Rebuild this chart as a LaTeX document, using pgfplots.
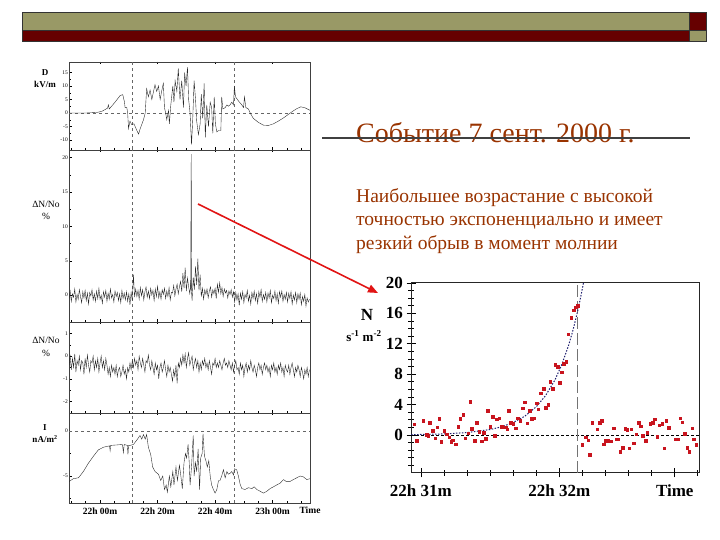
\documentclass[border=0pt]{standalone}
\usepackage{pgfplots}
\pgfplotsset{compat=1.18}
\usepackage{fontspec}
\setmainfont{Liberation Serif}
\usetikzlibrary{arrows.meta}
\definecolor{olivebar}{RGB}{153,153,102}
\definecolor{darkredbar}{RGB}{102,0,0}
\definecolor{brownt}{RGB}{153,51,0}
\definecolor{dotred}{RGB}{200,20,30}
\definecolor{fitblue}{RGB}{30,30,110}
\pgfplotsset{
 lp/.style={scale only axis, anchor=north west, width=241pt, xmin=-10.8, xmax=73,
  axis line style={black!75, line width=0.5pt},
  xtick={0,20,40,60}, minor xtick={-10,-5,...,70}, xticklabels={},
  ytick pos=left,
  tick align=inside, major tick length=2.5pt, minor tick length=1.5pt,
  tick style={black, line width=0.4pt},
  yticklabel style={font=\fontsize{5.5}{6}\selectfont, inner sep=1pt},
  /pgf/number format/assume math mode=true, clip=true},
 sig/.style={black!85, line width=0.38pt, mark=none},
 vd/.style={black!60, dashed, line width=0.4pt},
}
\begin{document}
\begin{tikzpicture}
\path[use as bounding box] (0pt,0pt) rectangle (720pt,540pt);
% top bar
\fill[olivebar] (22pt,528pt) rectangle (689pt,510pt);
\fill[darkredbar] (22pt,510pt) rectangle (689pt,499pt);
\fill[darkredbar] (689pt,528pt) rectangle (706pt,510pt);
\fill[olivebar] (689pt,510pt) rectangle (706pt,499pt);
\draw[black!80, line width=0.6pt] (22pt,528pt) rectangle (706pt,499pt);
\draw[black!80, line width=0.6pt] (22pt,510pt) -- (706pt,510pt) (689pt,528pt) -- (689pt,499pt);

% ---------- panel 1: D kV/m
\begin{axis}[lp, at={(69pt,478pt)}, height=88pt, ymin=-13.7, ymax=18.9,
  ytick={-10,-5,0,5,10,15}, minor y tick num=1]
\addplot[vd] coordinates {(11.1,-20) (11.1,25)};
\addplot[vd] coordinates {(46.6,-20) (46.6,25)};
\addplot[vd] coordinates {(-10.8,0) (73,0)};
\addplot[sig] coordinates {
(-10.7,0) (-5,0) (-1.2,0.2) (0.6,0.6) (2.6,1.8) (2.9,3) (3.2,1.5) (5.2,4) (7.0,6.5) (7.9,6.8) (8.5,4) (8.7,2) (9.3,2) (9.6,0) (9.9,-5.8) (10.4,-3) (11.0,-4.3) (11.8,-4) (12.8,-6.5) (13.4,-7.8) (13.9,-6) (15.1,-2.5) (15.7,0) (16.2,9) (16.8,6) (17.4,8.5) (18.0,5) (18.6,8) (19.1,10.5) (19.7,8) (20.3,10) (20.9,5) (21.4,8) (22.0,11) (22.4,2) (22.8,0) (23.2,-2.5) (23.8,1) (24.1,-4) (24.6,3) (25.3,10) (25.7,4) (26.1,12) (26.7,8) (27.2,16.5) (27.8,5) (28.4,12) (29.0,2) (29.4,15) (29.9,10) (30.4,17) (30.8,5) (31.3,0) (31.8,-11.7) (32.2,-3) (32.7,12) (33.2,5) (33.6,-3) (34.2,-8) (34.8,-4) (35.2,7) (35.7,-2) (36.2,11) (36.6,-9) (37.1,3) (37.7,-5) (38.3,4) (38.8,2) (39.2,-7.5) (39.7,6) (40.1,-4) (40.6,-7) (41.2,-6.5) (42.0,-6.5) (42.3,6) (42.7,1.5) (43.5,2) (44.1,3) (44.6,2.5) (45.2,3) (45.8,4) (46.4,3) (46.7,10) (47.1,6) (48.1,4.5) (49.3,3) (49.9,2) (50.2,6) (50.7,2) (51.6,1.5) (52.2,0) (53.3,-2) (55.1,-3.5) (56.8,-4.5) (58.6,-4.6) (60.3,-4) (62.0,-3) (63.8,-1.8) (65.5,-0.5) (67.2,0.8) (68.4,1.6) (69.8,2.3) (71.3,1.9) (73.0,1)};
\end{axis}

% ---------- panel 2: dN/No %
\begin{axis}[lp, at={(69pt,390pt)}, height=172pt, ymin=-3.9, ymax=21.1,
  ytick={0,5,10,15,20}, minor y tick num=1]
\addplot[vd] coordinates {(11.1,-20) (11.1,25)};
\addplot[vd] coordinates {(46.6,-20) (46.6,25)};
\addplot[sig] table[row sep=\\, header=false, x expr=-10.8+0.4*\coordindex, y index=0] {
-0.5\\0.6\\-0.9\\0.2\\-0.3\\0.9\\-1.0\\0.1\\-0.6\\0.8\\
-0.2\\-1.1\\0.5\\-0.4\\0.7\\-0.8\\0.3\\-1.3\\0.4\\-0.1\\
0.8\\-0.7\\0.2\\-0.9\\0.6\\-0.5\\1.0\\-0.6\\0.0\\-1.2\\
0.5\\-0.3\\0.7\\-0.9\\0.3\\-0.6\\0.9\\-0.4\\0.1\\-1.0\\
0.6\\-0.2\\0.4\\-0.8\\0.2\\-1.1\\0.7\\-0.5\\0.3\\-0.7\\
0.5\\-0.9\\0.2\\-1.4\\0.4\\-0.8\\3.0\\-0.3\\0.9\\-0.2\\
0.7\\-0.6\\1.1\\-0.1\\0.8\\-0.7\\0.5\\1.2\\-0.3\\0.6\\
-0.5\\1.0\\0.0\\0.7\\-0.8\\0.9\\-0.2\\1.3\\-0.4\\0.5\\
-0.6\\0.8\\0.1\\1.0\\-0.5\\0.6\\-0.2\\1.1\\-0.7\\0.4\\
0.3\\1.4\\-0.1\\0.9\\1.6\\0.2\\1.2\\2.0\\0.5\\3.2\\
1.0\\4.0\\0.6\\2.5\\1.2\\0.2\\1.8\\-0.8\\2.6\\0.8\\
4.2\\1.5\\5.3\\0.7\\3.0\\-0.2\\1.0\\-0.6\\0.8\\0.1\\
0.9\\-0.4\\0.6\\1.2\\-0.3\\0.8\\0.2\\1.0\\-0.5\\1.6\\
0.4\\1.8\\0.2\\1.1\\-0.2\\0.9\\0.3\\0.7\\-0.4\\0.6\\
0.1\\0.8\\-0.3\\0.5\\-1.0\\0.4\\-0.7\\0.2\\-1.5\\0.3\\
-0.6\\0.5\\-1.1\\0.1\\-0.4\\0.7\\-0.9\\0.0\\-1.3\\0.4\\
-0.5\\0.6\\-0.8\\0.2\\-1.2\\0.5\\-0.3\\0.8\\-0.9\\0.1\\
-0.6\\0.4\\-1.0\\0.3\\-0.4\\0.7\\-1.1\\0.0\\-0.5\\0.6\\
-0.8\\0.2\\-1.2\\0.5\\-0.3\\0.6\\-0.9\\0.1\\-0.6\\0.4\\
-1.0\\0.3\\-0.5\\0.5\\-1.3\\0.0\\-0.7\\0.4\\-1.1\\0.2\\
-0.6\\0.3\\-1.4\\-0.2\\-0.9\\0.1\\-1.6\\-0.4\\-1.0\\-0.6\\
};
\addplot[sig] coordinates {(31.5,0.8) (31.7,20.5) (31.85,1.0)};
\end{axis}

% ---------- panel 3: dN/No %
\begin{axis}[lp, at={(69pt,218pt)}, height=91pt, ymin=-2.5, ymax=1.5,
  ytick={-2,-1,0,1}, minor y tick num=1]
\addplot[vd] coordinates {(11.1,-5) (11.1,5)};
\addplot[vd] coordinates {(46.6,-5) (46.6,5)};
\addplot[sig] table[row sep=\\, header=false, x expr=-10.8+0.4*\coordindex, y index=0] {
-0.4\\0.0\\-0.6\\-0.1\\-0.5\\0.1\\-0.7\\-0.2\\-0.4\\0.0\\
-0.6\\-0.2\\-0.3\\-0.8\\-0.1\\-0.5\\0.05\\-0.4\\-0.7\\-0.2\\
-0.3\\0.0\\-0.6\\-0.2\\-0.5\\-0.1\\-0.7\\-0.3\\0.0\\-0.5\\
-0.2\\-0.6\\-0.1\\-0.4\\-0.8\\-0.5\\-0.9\\-0.4\\-0.7\\-0.5\\
-0.8\\-0.4\\-0.9\\-0.6\\-0.5\\-0.9\\-0.7\\-0.4\\-0.8\\-0.6\\
-1.0\\-0.5\\-0.7\\-0.3\\-0.6\\-0.2\\-0.5\\-0.1\\-0.4\\-0.2\\
-0.6\\0.0\\-0.3\\-0.5\\-0.1\\-0.4\\-0.7\\-0.2\\-0.3\\0.05\\
-0.4\\-0.6\\-0.2\\-0.5\\-0.8\\-0.3\\-0.6\\-0.4\\-1.0\\-0.5\\
-0.3\\-0.7\\-0.5\\-0.2\\-0.6\\-0.9\\-0.4\\-0.7\\-0.5\\-0.8\\
-1.1\\-0.6\\-0.9\\-0.4\\-1.2\\-0.3\\-0.5\\-0.1\\-0.4\\0.05\\
-0.3\\0.1\\-0.5\\-0.1\\0.15\\-0.4\\-0.2\\0.0\\-0.6\\-0.3\\
-0.1\\-0.5\\-0.2\\-0.7\\-0.3\\-0.6\\-0.2\\-0.4\\-0.1\\-0.5\\
-0.3\\-0.6\\-0.2\\-0.5\\-0.8\\-0.3\\-0.4\\-0.1\\-0.5\\-0.3\\
-0.5\\-0.2\\-0.4\\-0.6\\-0.3\\-0.1\\-0.4\\-0.3\\-0.5\\-0.2\\
-0.4\\-0.6\\-0.3\\-0.7\\-0.4\\-0.2\\-0.6\\-0.5\\-0.8\\-0.3\\
-0.6\\-0.4\\-0.9\\-0.5\\-0.3\\-0.7\\-0.4\\-0.6\\-0.2\\-0.5\\
-0.7\\-0.4\\-0.6\\-0.9\\-0.5\\-0.3\\-0.6\\-0.4\\-0.8\\-0.5\\
-0.3\\-0.6\\-0.4\\-0.7\\-0.5\\-0.9\\-0.4\\-0.6\\-0.3\\-0.7\\
-0.5\\-0.8\\-0.4\\-0.6\\-0.3\\-0.7\\-0.5\\-0.9\\-0.4\\-0.6\\
-0.7\\-0.4\\-0.8\\-0.5\\-0.3\\-0.6\\-0.9\\-0.5\\-0.7\\-0.4\\
-0.6\\-0.9\\-0.5\\-0.7\\-1.0\\-0.6\\-0.8\\-0.5\\-0.9\\-0.6\\
};
\end{axis}

% ---------- panel 4: I nA/m2
\begin{axis}[lp, at={(69pt,127pt)}, height=90pt, ymin=-8, ymax=2,
  ytick={-5,0}, minor ytick={-7.5,-2.5},
  xticklabels={22h 00m,22h 20m,22h 40m,23h 00m},
  xticklabel style={font=\bfseries\fontsize{9.5}{10}\selectfont, yshift=-1pt}]
\addplot[vd] coordinates {(11.1,-10) (11.1,5)};
\addplot[vd] coordinates {(46.6,-10) (46.6,5)};
\addplot[vd] coordinates {(-10.8,0) (73,0)};
\addplot[sig] coordinates {
(-10.7,-5.6) (-9.3,-5.3) (-7.5,-5.2) (-5.8,-4.5) (-4.1,-3.6) (-2.3,-2.8) (-0.6,-2.1) (1.2,-1.8) (3.3,-1.65) (3.5,-2.2) (3.7,-1.6) (5.8,-1.55) (7.8,-1.5) (8.1,-2.4) (8.4,-1.5) (9.5,-1.6) (9.7,-2.6) (9.9,-1.6) (10.4,-1.6) (11.6,-1.5) (12.8,-1.0) (13.9,-0.5) (14.5,-0.9) (15.1,-0.4) (15.7,-0.9) (16.2,-0.4) (16.8,-1.8) (17.6,-2.6) (18.3,-4.0) (19.1,-4.5) (20.3,-4.8) (21.1,-5.5) (21.8,-5.0) (22.4,-6.5) (23.0,-6.0) (23.4,-6.8) (24.1,-5.0) (24.6,-6.2) (25.3,-4.5) (25.7,-6.0) (26.4,-4.0) (26.9,-5.5) (27.6,-3.8) (28.1,-5.0) (28.6,-6.4) (29.2,-3.5) (29.7,-2.5) (30.1,-3.0) (30.6,-1.5) (31.0,-3.5) (31.3,-6.0) (31.8,-4.0) (32.4,-0.5) (32.7,-5.0) (33.2,-3.5) (33.6,-4.5) (34.1,-2.0) (34.6,-6.5) (35.0,-3.0) (35.5,-2.5) (35.8,-0.3) (36.3,-2.8) (36.8,-3.3) (37.3,-4.0) (37.8,-3.3) (38.3,-5.0) (38.8,-6.0) (39.4,-6.5) (40.0,-6.9) (40.6,-6.5) (41.2,-5.5) (41.7,-5.5) (42.3,-5.0) (42.9,-4.3) (43.5,-5.2) (44.1,-4.5) (44.6,-4.8) (45.2,-4.7) (45.8,-4.5) (46.4,-4.9) (46.7,-4.2) (47.5,-4.3) (48.1,-5.0) (48.7,-5.9) (49.3,-6.4) (50.4,-6.5) (51.6,-6.3) (52.8,-6.4) (53.6,-6.2) (54.5,-6.5) (55.7,-6.7) (56.8,-6.9) (58.0,-6.7) (59.1,-6.4) (60.3,-6.2) (61.4,-6.0) (62.6,-5.8) (63.8,-5.4) (64.7,-5.6) (66.1,-5.6) (67.2,-5.4) (68.4,-5.2) (69.6,-5.0) (70.7,-5.1) (71.9,-5.4) (73.0,-5.3)};
\end{axis}
\node[font=\bfseries\fontsize{9.5}{10}\selectfont] at (310pt,30pt) {Time};

% left labels
\node[font=\bfseries\fontsize{9}{10}\selectfont] at (45pt,467pt) {D};
\node[font=\bfseries\fontsize{9}{10}\selectfont] at (45pt,456pt) {kV/m};
\node[font=\fontsize{9.5}{10}\selectfont] at (46pt,336pt) {ΔN/No};
\node[font=\fontsize{9.5}{10}\selectfont] at (46pt,324pt) {\%};
\node[font=\fontsize{9.5}{10}\selectfont] at (46pt,200pt) {ΔN/No};
\node[font=\fontsize{9.5}{10}\selectfont] at (46pt,187pt) {\%};
\node[font=\bfseries\fontsize{9}{10}\selectfont] at (45pt,112pt) {I};
\node[font=\bfseries\fontsize{9}{10}\selectfont] at (45pt,101pt) {nA/m\textsuperscript{2}};

% ---------- right plot
\begin{axis}[scale only axis, at={(411pt,257pt)}, anchor=north west, width=288pt, height=190pt,
  xmin=-4.3, xmax=120.5, ymin=-5, ymax=20,
  xtick pos=bottom, ytick pos=left,
  ytick={0,4,...,20}, minor ytick={-4,...,19},
  xtick={0,60}, xticklabels={22h 31m,22h 32m},
  extra x ticks={110}, extra x tick labels={Time},
  minor xtick={10,20,...,120},
  tick align=center, major tick length=9pt, minor tick length=6pt,
  axis line style={black!85, line width=1pt},
  tick style={black, line width=0.8pt},
  ticklabel style={font=\bfseries\fontsize{17}{17}\selectfont},
  xticklabel style={yshift=-4pt},
  /pgf/number format/assume math mode=true, clip=true]
\addplot[black, densely dashed, line width=0.5pt] coordinates {(-4.3,0) (120.5,0)};
\addplot[black!55, dash pattern=on 12pt off 4pt, line width=1.2pt] coordinates {(68,-5) (68,20)};
\addplot[fitblue, dash pattern=on 1.5pt off 1.5pt, line width=1pt] coordinates {
(-4.3,0.04) (10,0.14) (20,0.32) (30,0.72) (35,1.08) (40,1.64) (45,2.47) (50,3.72) (54,5.18) (58,7.2) (61,9.22) (64,11.8) (66,13.91) (68,16.4) (69,17.81) (70,19.33) (70.5,20.15)};
\addplot[only marks, mark=square*, mark size=1.3pt, color=dotred] coordinates {
(-3.0,1.4) (-1.9,-0.75) (1.0,1.9) (2.5,0) (3.1,-0.1) (3.9,1.6) (5.1,0.57) (6.1,-0.4) (7.1,1.05) (8.0,2.15) (8.8,-0.9) (10,0.57) (11.2,0.1) (12.2,-0.3) (13.1,-0.9) (13.8,-0.7) (15.1,-1.2) (16.1,1.1) (17.1,2.15) (18.3,2.7) (19.2,-0.4) (20.4,0.25) (21.3,4.35) (22.1,0.8) (23.3,-0.75) (24.2,1.6) (25.2,0.4) (26.4,-0.83) (27.1,0.3) (28,-0.48) (29,3.16) (30,1.1) (31.2,2.4) (32,-0.1) (32.9,2.06) (34,2.2) (35.1,1.1) (35.8,1.05) (36.7,1.0) (37.3,0.75) (38.1,3.16) (38.8,1.6) (39.9,1.5) (41,0.92) (42,2.2) (43,1.9) (44.1,3.5) (44.9,4.34) (46,1.53) (47.1,3.2) (48,2.15) (48.8,2.2) (50.1,4.2) (50.9,3.4) (52,5.5) (53.2,6.1) (54,3.6) (55.1,3.95) (56.1,7.0) (57.1,6.1) (58.1,9.25) (59.3,9.0) (60.1,6.9) (61,8.25) (61.9,9.4) (62.9,9.65) (63.9,13.25) (65.1,15.4) (66.2,16.4) (67.1,16.8) (68,17)
(69.9,-1.3) (71.3,-0.3) (72.4,-0.7) (73.2,-2.6) (74.2,1.6) (76.4,0.75) (77.5,1.63) (78.3,1.9) (79.3,-1.2) (80.1,-0.74) (81.2,-0.74) (82.3,-0.8) (83.6,0.88) (84.6,-0.53) (85.4,-0.53) (86.4,-2.2) (87.5,-1.67) (88.5,0.8) (89.4,0.66) (90.3,-1.76) (91.2,0.75) (92.2,-1.1) (93.2,0.13) (94.3,1.63) (95.2,1.18) (96.1,-0.13) (97.3,-0.74) (98.1,0.3) (99.4,1.5) (100.4,1.63) (101.4,2.1) (102.3,-0.22) (103.3,1.27) (104.5,1.5) (105.5,-1.76) (106.3,1.9) (107.3,0.97) (110.5,-0.53) (111.4,-0.53) (112.4,2.2) (113.3,1.66) (114.3,0.2) (115.3,-1.67) (116.3,-2.2) (117.5,0.88) (118.2,-0.56) (119.2,-1.3)};
\end{axis}
\node[font=\bfseries\fontsize{17}{17}\selectfont] at (367pt,225pt) {N};
\node[font=\bfseries\fontsize{13}{13}\selectfont] at (364pt,204pt) {s\textsuperscript{-1} m\textsuperscript{-2}};

% title and text
\node[anchor=base west, inner sep=0, text=brownt, font=\fontsize{28}{30}\selectfont] at (356pt,397.3pt) {Событие 7 сент. 2000 г.};
\draw[black!75, line width=1.5pt] (322pt,402pt) -- (690pt,402pt);
\node[anchor=base west, inner sep=0, text=brownt, font=\fontsize{19.5}{22}\selectfont] at (356pt,337.3pt) {Наибольшее возрастание с высокой};
\node[anchor=base west, inner sep=0, text=brownt, font=\fontsize{19.5}{22}\selectfont] at (356pt,314pt) {точностью экспоненциально и имеет};
\node[anchor=base west, inner sep=0, text=brownt, font=\fontsize{19.5}{22}\selectfont] at (356pt,290pt) {резкий обрыв в момент молнии};

% arrow
\draw[-{Triangle[length=10pt,width=8pt]}, color={rgb,255:red,225;green,20;blue,20}, line width=1.6pt] (198pt,336pt) -- (378pt,247pt);
\end{tikzpicture}
\end{document}
